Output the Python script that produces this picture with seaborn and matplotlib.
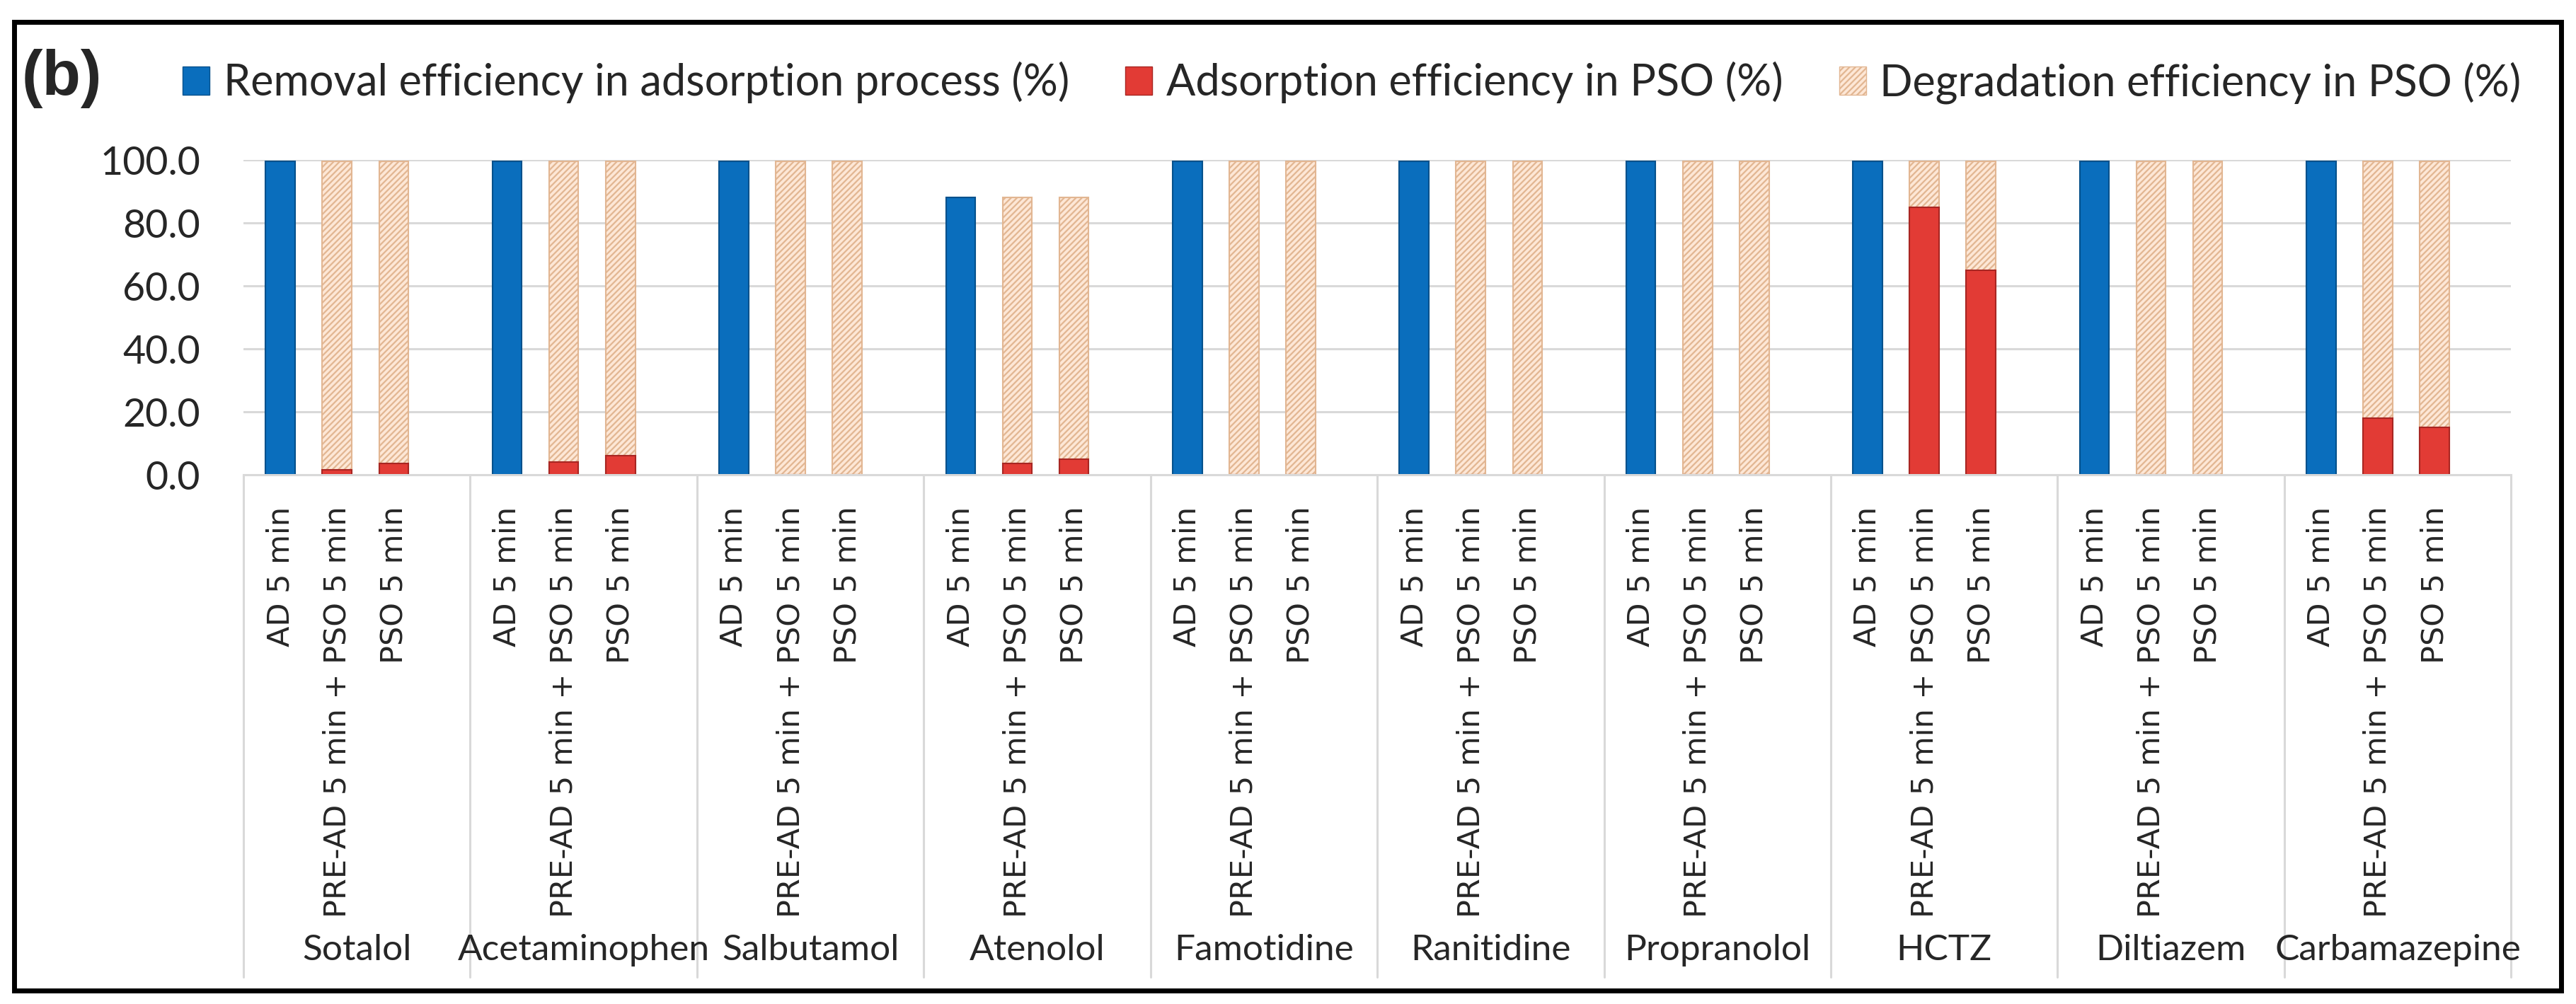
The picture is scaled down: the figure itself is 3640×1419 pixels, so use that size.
import pandas as pd
import seaborn as sns
import matplotlib.pyplot as plt
import matplotlib.transforms as mtransforms
from matplotlib.patches import Patch, Rectangle

# data
drugs = ['Sotalol', 'Acetaminophen', 'Salbutamol', 'Atenolol', 'Famotidine',
         'Ranitidine', 'Propranolol', 'HCTZ', 'Diltiazem', 'Carbamazepine']
conditions = ['AD 5 min', 'PRE-AD 5 min + PSO 5 min', 'PSO 5 min']
series_names = ['Removal efficiency in adsorption process (%)',
                'Adsorption efficiency in PSO (%)',
                'Degradation efficiency in PSO (%)']

removal_ad = [99.5, 99.5, 99.5, 88.0, 99.5, 99.5, 99.5, 99.5, 99.5, 99.5]
adsorption_pre = [1.5, 4.0, 0.0, 3.5, 0.0, 0.0, 0.0, 85.0, 0.0, 18.0]
degradation_pre = [98.0, 95.5, 99.5, 84.5, 99.5, 99.5, 99.5, 14.5, 99.5, 81.5]
adsorption_pso = [3.5, 6.0, 0.0, 5.0, 0.0, 0.0, 0.0, 65.0, 0.0, 15.0]
degradation_pso = [96.0, 93.5, 99.5, 83.0, 99.5, 99.5, 99.5, 34.5, 99.5, 84.5]

y_ticks = [0, 20, 40, 60, 80, 100]

c_blue = '#0A6EBD'
c_red = '#E23B35'
c_peach = '#FDE7D6'
c_hatch = '#E2B692'
c_grid = '#D9D9D9'

sns.set_theme(style='white')
plt.rcParams['font.family'] = ['Lato', 'DejaVu Sans']
plt.rcParams['hatch.linewidth'] = 1.6
plt.rcParams['hatch.color'] = c_hatch

# 3 bars + 1 empty slot per drug
order = []
for d in drugs:
    order += [d + '|' + c for c in conditions] + [d + '|gap']

rows_ad, rows_ads, rows_deg = [], [], []
for i, d in enumerate(drugs):
    rows_ad.append((d + '|' + conditions[0], removal_ad[i]))
    rows_ads.append((d + '|' + conditions[1], adsorption_pre[i]))
    rows_ads.append((d + '|' + conditions[2], adsorption_pso[i]))
    # stacked: degradation sits on top of adsorption
    rows_deg.append((d + '|' + conditions[1], adsorption_pre[i] + degradation_pre[i]))
    rows_deg.append((d + '|' + conditions[2], adsorption_pso[i] + degradation_pso[i]))
df_ad = pd.DataFrame(rows_ad, columns=['slot', 'value'])
df_ads = pd.DataFrame(rows_ads, columns=['slot', 'value'])
df_deg = pd.DataFrame(rows_deg, columns=['slot', 'value'])

fig = plt.figure(figsize=(36.41, 14.19), dpi=100)
fig.patch.set_facecolor('white')
ax = fig.add_axes([0.0945, 0.5271, 0.880, 0.3136])

bw = 0.52
sns.barplot(data=df_ad, x='slot', y='value', order=order, color=c_blue,
            saturation=1, width=bw, errorbar=None, ax=ax,
            edgecolor='#05518C', linewidth=1.5)
n0 = len(ax.patches)
sns.barplot(data=df_deg, x='slot', y='value', order=order, color=c_peach,
            saturation=1, width=bw, errorbar=None, ax=ax)
for p in ax.patches[n0:]:
    p.set_hatch('////')
    p.set_edgecolor(c_hatch)
    p.set_linewidth(1.5)
sns.barplot(data=df_ads, x='slot', y='value', order=order, color=c_red,
            saturation=1, width=bw, errorbar=None, ax=ax,
            edgecolor='#A82622', linewidth=1.5)

ax.set_xlim(-0.65, 39.35)
ax.set_ylim(0, 100)
ax.set_yticks(y_ticks)
ax.set_yticklabels([f'{v:.1f}' for v in y_ticks], fontsize=40)
ax.yaxis.grid(True, color=c_grid, lw=2.2)
ax.set_axisbelow(True)
for s in ['top', 'right', 'left']:
    ax.spines[s].set_visible(False)
ax.spines['bottom'].set_color(c_grid)
ax.spines['bottom'].set_linewidth(2.2)
ax.tick_params(axis='y', length=0, pad=44)

xpos = [4 * g + j for g in range(len(drugs)) for j in range(3)]
ax.set_xticks(xpos)
ax.set_xticklabels(conditions * len(drugs), rotation=90, fontsize=31,
                   family='DejaVu Sans')
ax.tick_params(axis='x', length=0, pad=32)
ax.set_xlabel('')
ax.set_ylabel('')

# group separators and drug names below the condition labels
tr = mtransforms.blended_transform_factory(ax.transData, fig.transFigure)
for g in range(len(drugs) + 1):
    ax.plot([4 * g - 0.65] * 2, [0.5271, 0.027], color=c_grid, lw=2.2,
            transform=tr, clip_on=False)
for g, d in enumerate(drugs):
    ax.text(4 * g + 1.35, 0.0535, d, transform=tr, ha='center', va='center',
            fontsize=37)

handles = [Patch(facecolor=c_blue, edgecolor='#05518C'),
           Patch(facecolor=c_red, edgecolor='#A82622'),
           Patch(facecolor=c_peach, edgecolor=c_hatch, hatch='////')]
fig.legend(handles, series_names, loc='center', bbox_to_anchor=(0.5247, 0.9175),
           ncol=3, frameon=False, fontsize=44, handlelength=0.62,
           handleheight=0.65, handletextpad=0.32, columnspacing=1.3)

fig.text(0.0085, 0.922, '(b)', fontsize=64, fontweight='bold',
         family='Liberation Sans', ha='left', va='center')

# black frame around the whole panel
fig.add_artist(Rectangle((20 / 3641, 0.0134), 3599 / 3641, 0.9648,
                         transform=fig.transFigure, fill=False, lw=5,
                         ec='black'))

fig.savefig('out.png', dpi=100)
